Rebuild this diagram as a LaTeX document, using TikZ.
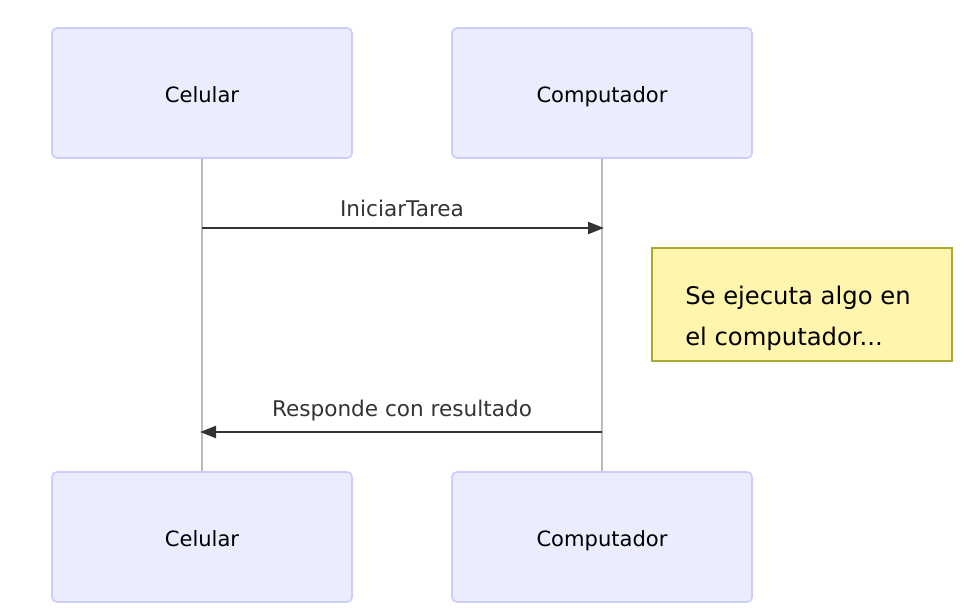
\documentclass[tikz,border=0pt]{standalone}
\usepackage{fontspec}
\setmainfont{DejaVu Sans}
\usetikzlibrary{arrows.meta}
\definecolor{actfill}{HTML}{ECECFF}
\definecolor{actdraw}{HTML}{CCCCFF}
\definecolor{notefill}{HTML}{FFF5AD}
\definecolor{notedraw}{HTML}{AAAA33}
\definecolor{msg}{HTML}{333333}
\definecolor{life}{HTML}{BBBBBB}
\tikzset{
  actor/.style={draw=actdraw, fill=actfill, line width=1.2pt, rounded corners=3.5pt,
    minimum width=225pt, minimum height=97.5pt, inner sep=0pt,
    font=\fontsize{15.8}{18}\selectfont, text=black, text height=14.5pt, text depth=0pt},
  lifeline/.style={draw=life, line width=0.9pt},
  message/.style={draw=msg, line width=1.7pt, -{Triangle[length=12pt,width=9pt]}},
  msglabel/.style={font=\fontsize{16.2}{18}\selectfont, text=msg, inner sep=0pt},
  notebox/.style={draw=notedraw, fill=notefill, line width=1.1pt,
    minimum width=225pt, minimum height=84.75pt, inner sep=0pt},
  notetext/.style={anchor=west, inner sep=0pt, font=\fontsize{18.2}{30.75}\selectfont, text=black, align=left},
}
\begin{document}
\begin{tikzpicture}[x=0.75pt, y=-0.75pt]
\useasboundingbox (0,0) rectangle (980,616);
\node[actor] (c1) at (202,93) {Celular};
\node[actor] (p1) at (602,93) {Computador};
\node[actor] (c2) at (202,537) {Celular};
\node[actor] (p2) at (602,537) {Computador};
\draw[lifeline] (c1.south) -- (c2.north);
\draw[lifeline] (p1.south) -- (p2.north);
\coordinate (m1s) at (202,228);
\coordinate (m1e) at (604,228);
\draw[message] (m1s) -- (m1e);
\node[msglabel] (l1) at (402,208) {IniciarTarea};
\coordinate (m2s) at (602,432);
\coordinate (m2e) at (200,432);
\draw[message] (m2s) -- (m2e);
\node[msglabel] (l2) at (402,411) {Responde con resultado};
\node[notebox] (n) at (802,304.5) {};
\node[notetext] (nt) at (685,318) {Se ejecuta algo en\\el computador...};
\end{tikzpicture}
\end{document}
